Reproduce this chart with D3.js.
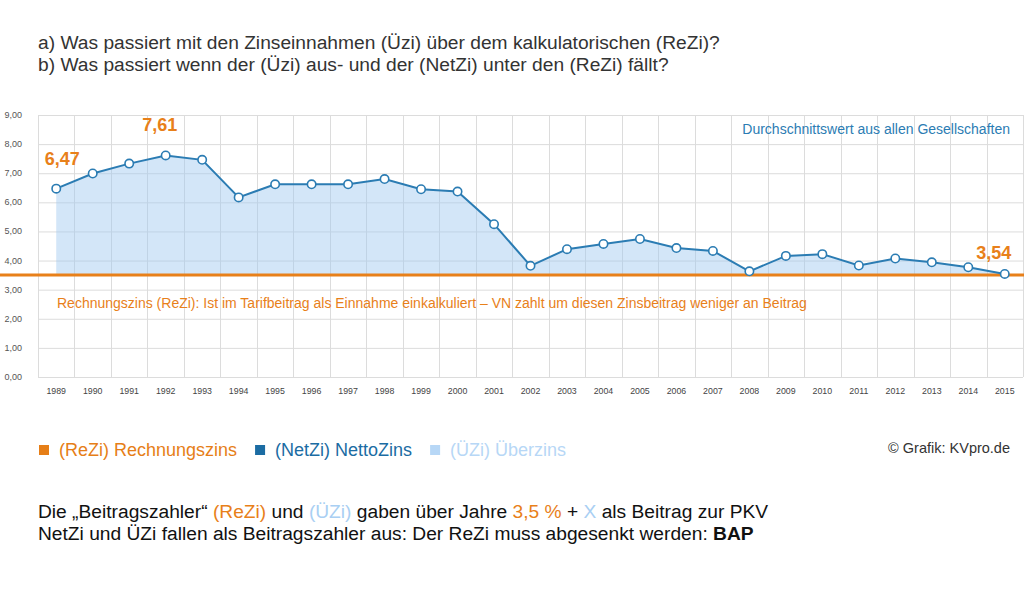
<!DOCTYPE html>
<html><head><meta charset="utf-8">
<script src="https://cdn.jsdelivr.net/npm/d3@7"></script>
<style>
html,body{margin:0;padding:0;background:#fff;}
svg{display:block;font-family:"Liberation Sans",Arial,sans-serif;}
</style></head>
<body>
<svg id="c" width="1024" height="602"></svg>
<script>
const years = [1989,1990,1991,1992,1993,1994,1995,1996,1997,1998,1999,2000,2001,2002,2003,2004,2005,2006,2007,2008,2009,2010,2011,2012,2013,2014,2015];
const netZi = [6.47,6.99,7.33,7.61,7.46,6.17,6.62,6.62,6.62,6.80,6.45,6.37,5.25,3.82,4.39,4.57,4.74,4.43,4.33,3.63,4.16,4.22,3.83,4.07,3.94,3.77,3.54];
const reZi = 3.5;
const yTicks = [0,1,2,3,4,5,6,7,8,9];
const highlights = [{year:1989,label:"6,47"},{year:1992,label:"7,61"},{year:2015,label:"3,54"}];
const titleLines = ["a) Was passiert mit den Zinseinnahmen (Üzi) über dem kalkulatorischen (ReZi)?","b) Was passiert wenn der (Üzi) aus- und der (NetZi) unter den (ReZi) fällt?"];
const legendItems = [{label:"(ReZi) Rechnungszins",color:"#e67e17"},{label:"(NetZi) NettoZins",color:"#1b6ca3"},{label:"(ÜZi) Überzins",color:"#b7d7f6"}];

const ORANGE="#e8801a", BLUE="#2b7cb3", LIGHT="#a9cff3";
const svg = d3.select("#c");

const x = d3.scaleBand().domain(years).range([38,1023]).padding(0);
const y = d3.scaleLinear().domain([0,9]).range([377,115]);
const cx = d => x(d) + x.bandwidth()/2;

// titles
svg.selectAll("text.title").data(titleLines).join("text")
  .attr("x",38).attr("y",(d,i)=>49+i*22).attr("font-size",19.2).attr("fill","#333").text(d=>d);

// grid
const g = svg.append("g");
g.selectAll("line.h").data(yTicks).join("line")
  .attr("x1",38).attr("x2",1023).attr("y1",d=>y(d)+0.5).attr("y2",d=>y(d)+0.5)
  .attr("stroke","#dcdcdc").attr("stroke-width",1);
const bounds = years.map(d=>x(d)).concat([1023]);
g.selectAll("line.v").data(bounds).join("line")
  .attr("x1",d=>Math.round(d)+0.5).attr("x2",d=>Math.round(d)+0.5).attr("y1",y(9)).attr("y2",y(0))
  .attr("stroke","#dcdcdc").attr("stroke-width",1);

// y labels
svg.selectAll("text.yl").data(yTicks).join("text")
  .attr("x",22).attr("y",d=>y(d)+3).attr("text-anchor","end").attr("font-size",9).attr("fill","#555")
  .text(d=>d3.format(".2f")(d).replace(".",","));
// x labels
svg.selectAll("text.xl").data(years).join("text")
  .attr("x",d=>cx(d)).attr("y",394).attr("text-anchor","middle").attr("font-size",8.8).attr("fill","#444")
  .text(d=>d);

// area
const data = years.map((yr,i)=>({yr,v:netZi[i]}));
svg.append("path").datum(data)
  .attr("d",d3.area().x(d=>cx(d.yr)).y0(y(reZi)).y1(d=>y(d.v)))
  .attr("fill","#9ec8f0").attr("fill-opacity",0.45);

// ReZi line
svg.append("line").attr("x1",0).attr("x2",1024).attr("y1",y(reZi)).attr("y2",y(reZi))
  .attr("stroke",ORANGE).attr("stroke-width",3);

// NetZi line
svg.append("path").datum(data)
  .attr("d",d3.line().x(d=>cx(d.yr)).y(d=>y(d.v)))
  .attr("fill","none").attr("stroke",BLUE).attr("stroke-width",2);
svg.selectAll("circle.pt").data(data).join("circle")
  .attr("cx",d=>cx(d.yr)).attr("cy",d=>y(d.v)).attr("r",4.2)
  .attr("fill","#fff").attr("stroke",BLUE).attr("stroke-width",1.6);

// highlight labels
svg.selectAll("text.hl").data(highlights).join("text")
  .attr("x",d=>cx(d.year)+ (d.year===2015?-11:(d.year===1989?6:-6)))
  .attr("y",d=>y(netZi[years.indexOf(d.year)]) - (d.year===2015?15:24))
  .attr("text-anchor","middle").attr("font-size",18).attr("font-weight","bold").attr("fill",ORANGE)
  .text(d=>d.label);

// annotations
svg.append("text").attr("x",1010).attr("y",134).attr("text-anchor","end").attr("font-size",14).attr("fill",BLUE)
  .text("Durchschnittswert aus allen Gesellschaften");
svg.append("text").attr("x",57).attr("y",308).attr("font-size",14).attr("fill",ORANGE)
  .text("Rechnungszins (ReZi): Ist im Tarifbeitrag als Einnahme einkalkuliert – VN zahlt um diesen Zinsbeitrag weniger an Beitrag");

// legend
let lx = 39;
legendItems.forEach(it=>{
  svg.append("rect").attr("x",lx).attr("y",445).attr("width",10).attr("height",10).attr("fill",it.color);
  const t = svg.append("text").attr("x",lx+20).attr("y",456).attr("font-size",18).attr("fill",it.color).text(it.label);
  lx = lx + 20 + t.node().getComputedTextLength() + 18;
});
svg.append("text").attr("x",1010).attr("y",453).attr("text-anchor","end").attr("font-size",14.5).attr("fill","#333")
  .text("© Grafik: KVpro.de");

// bottom text
const l1 = svg.append("text").attr("x",38).attr("y",518).attr("font-size",19.2).attr("fill","#111");
[["Die „Beitragszahler“ ","#111"],["(ReZi)",ORANGE],[" und ","#111"],["(ÜZi)",LIGHT],[" gaben über Jahre ","#111"],["3,5 %",ORANGE],[" + ","#111"],["X",LIGHT],[" als Beitrag zur PKV","#111"]]
  .forEach(([s,c])=>l1.append("tspan").attr("fill",c).text(s));
const l2 = svg.append("text").attr("x",38).attr("y",540).attr("font-size",19.2).attr("fill","#111");
l2.append("tspan").text("NetZi und ÜZi fallen als Beitragszahler aus: Der ReZi muss abgesenkt werden: ");
l2.append("tspan").attr("font-weight","bold").text("BAP");
</script>
</body></html>
